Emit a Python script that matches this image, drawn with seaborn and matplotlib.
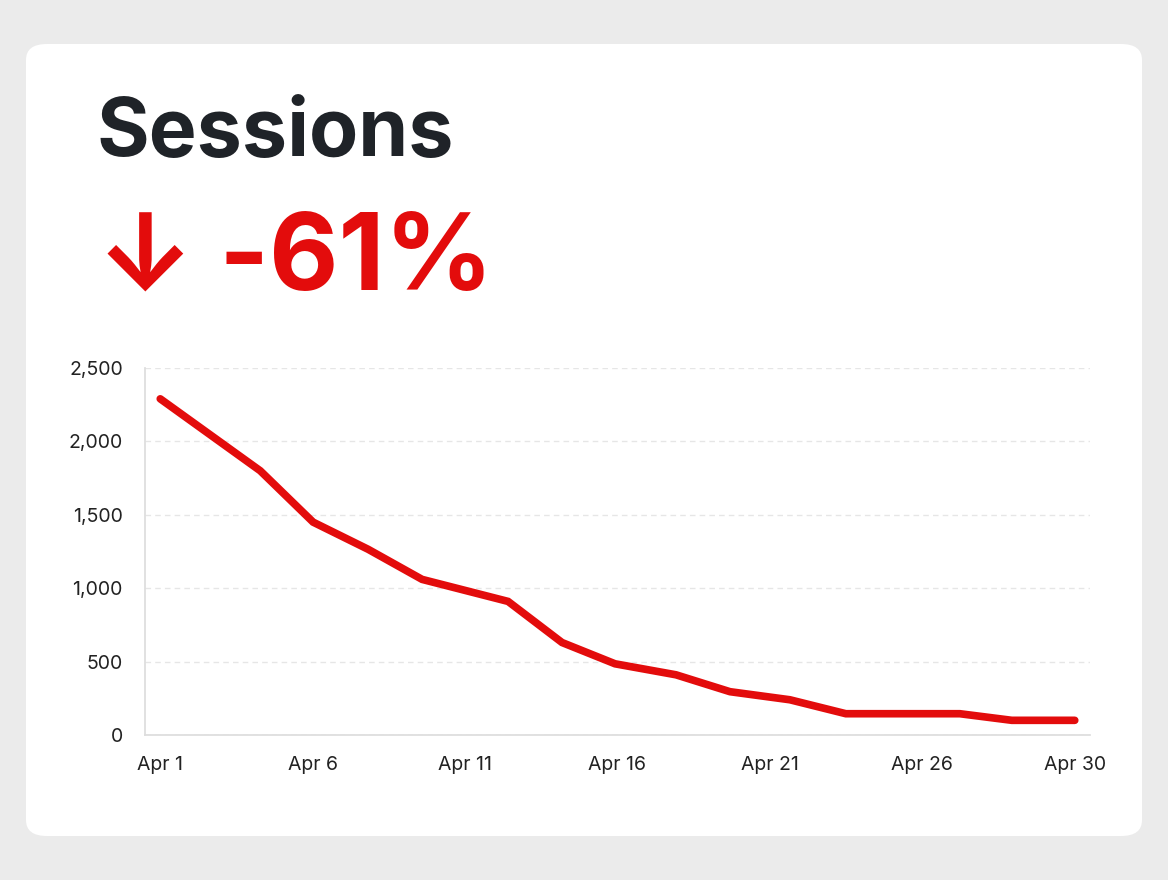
import matplotlib
matplotlib.use("Agg")
import matplotlib.pyplot as plt
import seaborn as sns
import pandas as pd
from matplotlib.patches import FancyBboxPatch

tick_labels = ["Apr 1", "Apr 6", "Apr 11", "Apr 16", "Apr 21", "Apr 26", "Apr 30"]
x_pos = [0, 0.656, 1.003, 1.364, 1.718, 2.282, 2.636, 2.984, 3.384, 3.738, 4.131, 4.498, 5.246, 5.587, 6.0]
sessions = [2290, 1800, 1450, 1265, 1060, 910, 630, 485, 410, 295, 240, 145, 145, 100, 100]
change_text = "↓ -61%"
title = "Sessions"

sns.set_theme(style="white")
plt.rcParams['font.family'] = ['Inter', 'DejaVu Sans']
red = "#e30c0c"

fig = plt.figure(figsize=(11.68, 8.8), dpi=100)
fig.patch.set_facecolor("#ebebeb")
W, H = 1168, 880
card = FancyBboxPatch((26 / W, 1 - 836 / H), (1142 - 26) / W, (836 - 44) / H,
                      boxstyle="round,pad=0,rounding_size=0.018", transform=fig.transFigure,
                      facecolor="white", edgecolor="none", zorder=-5)
fig.patches.append(card)
fig.text(97 / W, 1 - 135 / H, title, fontsize=58, fontweight="bold", color="#1f2328", va="center")
fig.text(97 / W, 1 - 262 / H, change_text, fontsize=77, fontweight="bold", color=red, va="center")

ax = fig.add_axes([145 / W, 1 - 735 / H, (1090 - 145) / W, (735 - 368) / H], zorder=2)
ax.set_facecolor("none")
df = pd.DataFrame({"x": x_pos, "y": sessions})
sns.lineplot(data=df, x="x", y="y", ax=ax, color=red, linewidth=5.5, solid_joinstyle="miter")
ax.set_ylim(0, 2500)
ax.set_xlim(-0.1, 6.1)
ax.set_yticks([0, 500, 1000, 1500, 2000, 2500])
ax.set_yticklabels([f"{v:,}" for v in [0, 500, 1000, 1500, 2000, 2500]])
ax.set_xticks(range(7))
ax.set_xticklabels(tick_labels)
ax.set_xlabel("")
ax.set_ylabel("")
ax.grid(axis="y", color="#e6e6e6", linestyle=(0, (4, 3)), linewidth=1)
for s in ["top", "right"]:
    ax.spines[s].set_visible(False)
for s in ["left", "bottom"]:
    ax.spines[s].set_color("#dddddd")
ax.tick_params(axis="x", length=5, color="#cccccc", labelsize=14, labelcolor="#222222", pad=10)
ax.tick_params(axis="y", length=0, labelsize=14, labelcolor="#222222", pad=16)
fig.savefig("out.png", dpi=100, facecolor=fig.get_facecolor())
